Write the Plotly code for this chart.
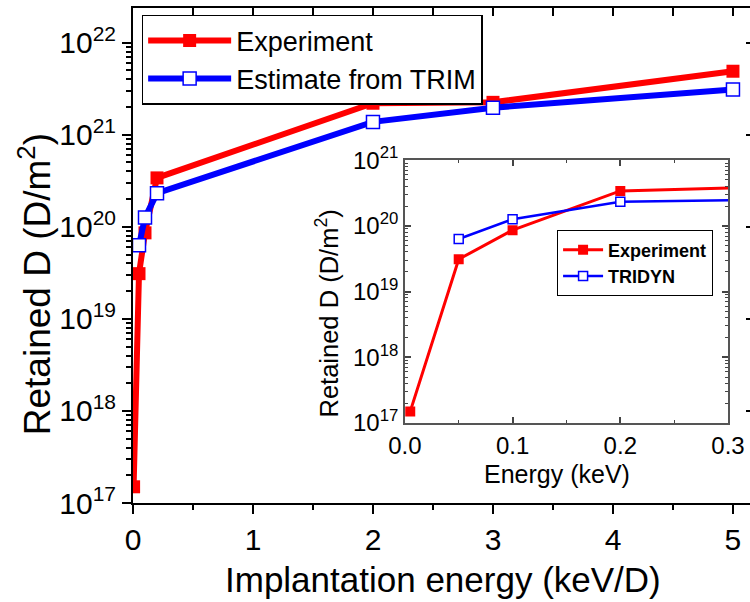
import plotly.graph_objects as go

# ---------------- data ----------------
energy_exp = [0.005, 0.05, 0.1, 0.2, 2, 3, 5]
retained_exp = [1.5e17, 3.1e19, 8.6e19, 3.4e20, 2.2e21, 2.25e21, 4.9e21]

energy_sim = [0.05, 0.1, 0.2, 2, 3, 5]
retained_sim = [6.3e19, 1.26e20, 2.32e20, 1.38e21, 1.97e21, 3.1e21]

main_xticks = [0, 1, 2, 3, 4, 5]
main_decades = [17, 18, 19, 20, 21, 22]
inset_xticks = [0.0, 0.1, 0.2, 0.3]
inset_xticklabels = ["0.0", "0.1", "0.2", "0.3"]
inset_decades = [17, 18, 19, 20, 21]

RED = "#FF0000"
BLUE = "#0000FF"
FONT = "Liberation Sans, Arial, sans-serif"


def dec_vals(decs):
    return [10.0 ** d for d in decs]


def dec_text(decs):
    return ["10<sup>%d</sup>" % d for d in decs]


def minor_vals(decs):
    out = []
    for d in decs[:-1]:
        for k in range(2, 10):
            out.append(k * 10.0 ** d)
    return out


fig = go.Figure()

# main plot
fig.add_trace(go.Scatter(
    x=energy_exp, y=retained_exp, name="Experiment", mode="lines+markers",
    line=dict(color=RED, width=6),
    marker=dict(symbol="square", size=13, color=RED),
    xaxis="x", yaxis="y", legend="legend"))
fig.add_trace(go.Scatter(
    x=energy_sim, y=retained_sim, name="Estimate from TRIM", mode="lines+markers",
    line=dict(color=BLUE, width=6),
    marker=dict(symbol="square", size=13, color="white", line=dict(color=BLUE, width=1.5)),
    xaxis="x3", yaxis="y3", legend="legend"))

# inset
fig.add_trace(go.Scatter(
    x=energy_exp, y=retained_exp, name="<b>Experiment</b>", mode="lines+markers",
    line=dict(color=RED, width=3),
    marker=dict(symbol="square", size=10, color=RED),
    xaxis="x2", yaxis="y2", legend="legend2"))
fig.add_trace(go.Scatter(
    x=energy_sim, y=retained_sim, name="<b>TRIDYN</b>", mode="lines+markers",
    line=dict(color=BLUE, width=2.5),
    marker=dict(symbol="square", size=9, color="white", line=dict(color=BLUE, width=1.5)),
    xaxis="x2", yaxis="y2", legend="legend2"))

main_yr = [17, 22.377]
main_xr = [0, 5.142]

fig.update_layout(
    width=750, height=602, autosize=False,
    margin=dict(l=133, r=0, t=8, b=99, autoexpand=False),
    paper_bgcolor="white", plot_bgcolor="rgba(0,0,0,0)",
    font=dict(family=FONT, color="black"),
    showlegend=True,
    xaxis=dict(
        domain=[0, 1], range=main_xr, anchor="y", automargin=False,
        tickvals=main_xticks, ticks="outside", ticklen=9, tickwidth=2,
        tickcolor="black", showline=True, linewidth=2, linecolor="black",
        showgrid=False, zeroline=False,
        tickfont=dict(size=30, family=FONT),
        minor=dict(dtick=0.5, tick0=0, ticks="outside", ticklen=5, tickwidth=1.5,
                   tickcolor="black", showgrid=False)),
    yaxis=dict(
        domain=[0, 1], type="log", range=main_yr, anchor="x", automargin=False,
        tickvals=dec_vals(main_decades), ticktext=dec_text(main_decades),
        ticks="outside", ticklen=9, tickwidth=2, tickcolor="black",
        showline=True, linewidth=2, linecolor="black",
        showgrid=False, zeroline=False,
        tickfont=dict(size=30, family=FONT),
        minor=dict(tickvals=minor_vals(main_decades), ticks="outside", ticklen=5,
                   tickwidth=1.5, tickcolor="black", showgrid=False)),
    xaxis3=dict(
        overlaying="x", matches="x", anchor="y3", side="top", automargin=False,
        tickvals=[v / 2 for v in range(0, 11)], ticks="inside", ticklen=8, tickwidth=2,
        tickcolor="black", showline=True, linewidth=2, linecolor="black",
        showticklabels=False, showgrid=False, zeroline=False),
    yaxis3=dict(
        overlaying="y", matches="y", anchor="x3", side="right", type="log",
        automargin=False,
        tickvals=dec_vals(main_decades), ticks="inside", ticklen=4, tickwidth=2,
        tickcolor="black", showline=False, showticklabels=False,
        showgrid=False, zeroline=False),
    xaxis2=dict(
        domain=[0.4406, 0.9644], range=[0, 0.3], anchor="y2", automargin=False,
        tickvals=inset_xticks, ticktext=inset_xticklabels,
        ticks="inside", ticklen=6, tickwidth=1.5, tickcolor="#444",
        showline=True, linewidth=1.5, linecolor="#555", mirror="ticks",
        showgrid=False, zeroline=False,
        tickfont=dict(size=24, family=FONT),
        minor=dict(dtick=0.05, tick0=0, ticks="inside", ticklen=3, tickwidth=1,
                   tickcolor="#444", showgrid=False)),
    yaxis2=dict(
        domain=[0.1617, 0.6927], type="log", range=[17, 21], anchor="x2",
        automargin=False,
        tickvals=dec_vals(inset_decades), ticktext=dec_text(inset_decades),
        ticks="inside", ticklen=6, tickwidth=1.5, tickcolor="#444",
        showline=True, linewidth=1.5, linecolor="#555", mirror="ticks",
        showgrid=False, zeroline=False,
        tickfont=dict(size=24, family=FONT),
        minor=dict(tickvals=minor_vals(inset_decades), ticks="inside", ticklen=3,
                   tickwidth=1, tickcolor="#444", showgrid=False)),
    legend=dict(
        x=0.014, y=0.986, xanchor="left", yanchor="top",
        bgcolor="white", bordercolor="black", borderwidth=1.5,
        font=dict(size=27, family=FONT), itemwidth=83, tracegroupgap=0),
    legend2=dict(
        x=0.687, y=0.551, xanchor="left", yanchor="top",
        bgcolor="white", bordercolor="black", borderwidth=1.2,
        font=dict(size=18, family=FONT), itemwidth=40, tracegroupgap=0),
    annotations=[
        dict(text="Retained D (D/m<sup>2</sup>)", xref="paper", yref="paper",
             x=-0.158, y=0.441, xanchor="center", yanchor="middle",
             textangle=-90, showarrow=False, font=dict(size=37, family=FONT)),
        dict(text="Implantation energy (keV/D)", xref="paper", yref="paper",
             x=0.5025, y=-0.154, xanchor="center", yanchor="middle",
             showarrow=False, font=dict(size=35, family=FONT)),
        dict(text="Retained D (D/m<sup>2</sup>)", xref="paper", yref="paper",
             x=0.315, y=0.3835, xanchor="center", yanchor="middle",
             textangle=-90, showarrow=False, font=dict(size=25.5, family=FONT)),
        dict(text="Energy (keV)", xref="paper", yref="paper",
             x=0.688, y=0.058, xanchor="center", yanchor="middle",
             showarrow=False, font=dict(size=25, family=FONT)),
    ],
)

fig.write_html(
    "out.html",
    config={"displayModeBar": False},
    post_script="document.body.style.margin='0';document.body.style.overflow='hidden';",
)
